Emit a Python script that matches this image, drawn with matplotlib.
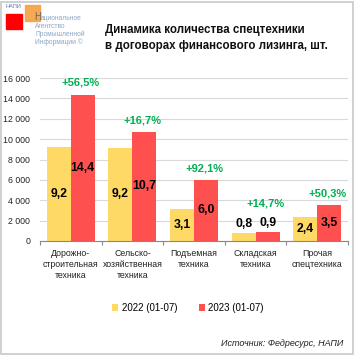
import matplotlib

matplotlib.use("Agg")
import matplotlib.pyplot as plt
import numpy as np
from matplotlib.patches import Rectangle

# Data
categories = [
    "Дорожно-\nстроительная\nтехника",
    "Сельско-\nхозяйственная\nтехника",
    "Подъемная\nтехника",
    "Складская\nтехника",
    "Прочая\nспецтехника",
]
values_2022 = [9190, 9170, 3120, 790, 2350]
values_2023 = [14380, 10700, 5990, 910, 3530]
growth_labels = ["+56,5%", "+16,7%", "+92,1%", "+14,7%", "+50,3%"]
series_names = ["2022 (01-07)", "2023 (01-07)"]
y_ticks = [0, 2000, 4000, 6000, 8000, 10000, 12000, 14000, 16000]

W, H = 355, 356
YELLOW = "#FFD966"
RED = "#FF5050"
GREEN = "#00B050"

plt.rcParams["font.family"] = ["Liberation Sans", "DejaVu Sans"]

fig = plt.figure(figsize=(W / 100, H / 100), dpi=100)


def fx(px):
    return px / W


def fy(py):
    return 1 - py / H


# Plot area
ax = fig.add_axes([fx(40), fy(241), fx(348) - fx(40), fy(78) - fy(241)])
x = np.arange(len(categories))
bw = 0.39
bars1 = ax.bar(x - bw / 2, values_2022, bw, color=YELLOW, label=series_names[0], zorder=3)
bars2 = ax.bar(x + bw / 2, values_2023, bw, color=RED, label=series_names[1], zorder=3)

ax.set_xlim(-0.5, len(categories) - 0.5)
ax.set_ylim(0, 16000)
ax.set_yticks(y_ticks)
ax.set_yticklabels([f"{v:,}".replace(",", " ") for v in y_ticks], fontsize=6.3, color="#222222")
ax.yaxis.grid(True, color="#D9D9D9", linewidth=0.8, zorder=0)
ax.tick_params(axis="y", length=0, pad=7)

# Category ticks at group boundaries, labels in the middle
ax.set_xticks(np.arange(len(categories) + 1) - 0.5)
ax.set_xticklabels([])
ax.set_xticks(x, minor=True)
ax.set_xticklabels(categories, minor=True, fontsize=6.3, color="#222222", linespacing=1.25)
ax.tick_params(axis="x", which="major", length=3, color="#888888", width=0.8)
ax.tick_params(axis="x", which="minor", length=0, pad=6)

for side in ["top", "right", "left"]:
    ax.spines[side].set_visible(False)
ax.spines["bottom"].set_color("#888888")
ax.spines["bottom"].set_linewidth(0.8)
ax.spines["bottom"].set_zorder(4)


def fmt(v):
    return f"{v / 1000:.1f}".replace(".", ",")


# Value labels: inside bars in the middle, above small bars
for bars in (bars1, bars2):
    for b in bars:
        h = b.get_height()
        cx = b.get_x() + b.get_width() / 2
        if h > 2000:
            ax.text(cx, h / 2, fmt(h), ha="center", va="center", fontsize=8.8,
                    fontweight="bold", color="black", zorder=5)
        else:
            ax.text(cx, h + 250, fmt(h), ha="center", va="bottom", fontsize=8.8,
                    fontweight="bold", color="black", zorder=5)

# Growth labels above the 2023 bars
for b, lbl, v22 in zip(bars2, growth_labels, values_2022):
    h = b.get_height()
    offset = 1150 if h > 2000 else 2750
    ax.text(b.get_x() + b.get_width() / 2 - 0.03, h + offset, lbl, ha="center",
            va="center", fontsize=8, fontweight="bold", color=GREEN, zorder=5)

# Legend
fig.legend(handles=[bars1, bars2], labels=series_names, loc="center",
           bbox_to_anchor=(fx(188), fy(308)), ncol=2, frameon=False, fontsize=7,
           handlelength=0.6, handleheight=0.6, handletextpad=0.4, columnspacing=2.2)

# Title
fig.text(fx(105), fy(38), "Динамика количества спецтехники\nв договорах финансового лизинга, шт.",
         ha="left", va="center", fontsize=8.3, fontweight="bold", color="#111111",
         linespacing=1.45)

# Source
fig.text(fx(343), fy(343), "Источник: Федресурс, НАПИ", ha="right", va="center",
         fontsize=6.5, style="italic", color="#222222")

# Logo
fig.add_artist(Rectangle((fx(6), fy(29)), fx(16), fx(15) * W / H, color="#FF0000",
                         transform=fig.transFigure))
fig.add_artist(Rectangle((fx(25), fy(21)), fx(15), fx(16) * W / H, color="#F5A040",
                         transform=fig.transFigure, alpha=0.9))
fig.text(fx(5), fy(7), "НАПИ", fontsize=4, color="#5577AA", va="center", ha="left")
fig.text(fx(34), fy(17), "Н", fontsize=7, color="#666666", va="center", ha="left")
logo_lines = ["ациональное", "Агентство", "Промышленной", "Информации ©"]
fig.text(fx(40.5), fy(18), logo_lines[0], fontsize=4.8, color="#8CA5C8", va="center", ha="left")
for i, line in enumerate(logo_lines[1:]):
    fig.text(fx(35), fy(26 + 8 * i), line, fontsize=4.8, color="#8CA5C8", va="center", ha="left")

# Outer border
fig.add_artist(Rectangle((fx(1), fy(354)), fx(352), fy(2) - fy(354), fill=False,
                         edgecolor="#C8C8C8", linewidth=1.2, transform=fig.transFigure))

fig.savefig("out.png", dpi=100, facecolor="white")
